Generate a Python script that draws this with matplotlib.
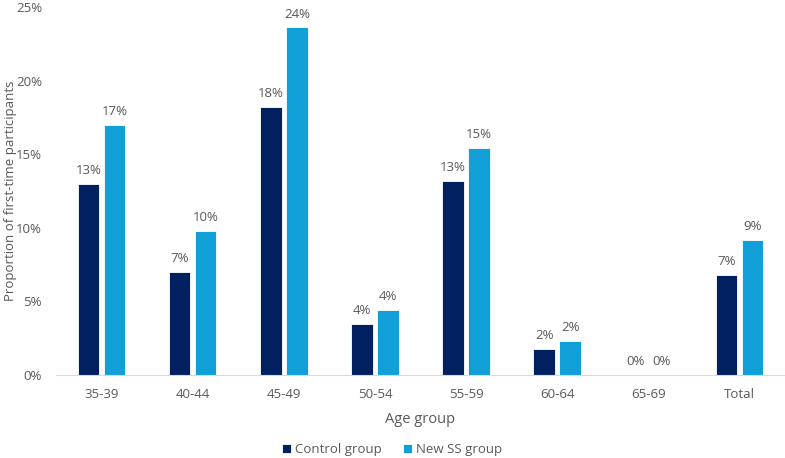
import numpy as np
import matplotlib
matplotlib.use("Agg")
import matplotlib.pyplot as plt

age_groups = ["35-39", "40-44", "45-49", "50-54", "55-59", "60-64", "65-69", "Total"]
control = [13.0, 7.0, 18.2, 3.5, 13.2, 1.8, 0.0, 6.8]
new_ss = [17.0, 9.8, 23.6, 4.4, 15.4, 2.3, 0.0, 9.2]

plt.rcParams["font.family"] = ["Open Sans", "DejaVu Sans"]
text_color = "#595959"

fig = plt.figure(figsize=(7.85, 4.58), dpi=100)
ax = fig.add_axes([0.0713, 0.181, 0.9287, 0.804])

x = np.arange(len(age_groups))
w = 0.236
off = 0.143
b1 = ax.bar(x - off, control, w, color="#002060", edgecolor="white", linewidth=0.6, label="Control group")
b2 = ax.bar(x + off, new_ss, w, color="#119FD7", edgecolor="white", linewidth=0.6, label="New SS group")

for bars, vals in [(b1, control), (b2, new_ss)]:
    for bar, v in zip(bars, vals):
        ax.annotate(f"{v:.0f}%", (bar.get_x() + bar.get_width() / 2, v),
                    xytext=(0, 5), textcoords="offset points",
                    ha="center", va="bottom", fontsize=9.5, color=text_color)

ax.set_xlim(-0.5, len(age_groups) - 0.5)
ax.set_ylim(0, 25)
ax.set_yticks(range(0, 26, 5))
ax.set_yticklabels([f"{t}%" for t in range(0, 26, 5)])
ax.set_xticks(x)
ax.set_xticklabels(age_groups)
ax.tick_params(length=0, labelsize=9.5, labelcolor=text_color)
ax.tick_params(axis="x", pad=9)
ax.tick_params(axis="y", pad=10)

for s in ["top", "right", "left"]:
    ax.spines[s].set_visible(False)
ax.spines["bottom"].set_color("#D9D9D9")

ax.set_xlabel("Age group", fontsize=10.5, color=text_color, labelpad=8)
ax.set_ylabel("Proportion of first-time participants", fontsize=9.5, color=text_color)
ax.yaxis.set_label_coords(17 / 785, 1 - 191 / 458, transform=fig.transFigure)

fig.legend(handles=[b1, b2], loc="center", bbox_to_anchor=(392 / 785, 0.018), ncol=2,
           frameon=False, fontsize=9.5, labelcolor=text_color,
           handlelength=0.7, handleheight=0.7, handletextpad=0.3, columnspacing=1.6)

fig.savefig("out.png", dpi=100)
